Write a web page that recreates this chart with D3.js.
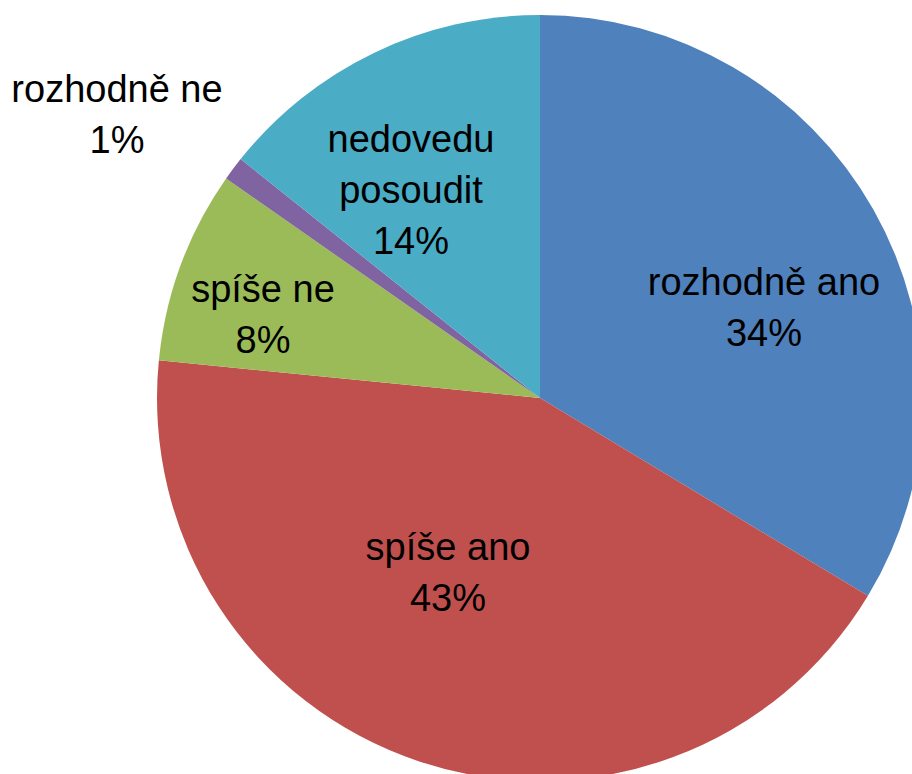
<!DOCTYPE html>
<html>
<head>
<meta charset="utf-8">
<script src="https://cdn.jsdelivr.net/npm/d3@7"></script>
<style>
  html, body { margin: 0; padding: 0; background: #fff; }
  svg { display: block; }
  text { font-family: "Liberation Sans", Arial, sans-serif; fill: #000; }
</style>
</head>
<body>
<svg id="chart" width="912" height="774"></svg>
<script>
// ---- data ----
const categories = ["rozhodně ano", "spíše ano", "spíše ne", "rozhodně ne", "nedovedu posoudit"];
const values = [33.64, 42.93, 8.14, 1.01, 14.28];
const percentLabels = ["34%", "43%", "8%", "1%", "14%"];
const labelLines = [["rozhodně ano"], ["spíše ano"], ["spíše ne"], ["rozhodně ne"], ["nedovedu", "posoudit"]];
const colors = ["#4F81BD", "#C0504D", "#9BBB59", "#8064A2", "#4BACC6"];

// ---- layout ----
const W = 912, H = 774;
const cx = 540, cy = 398, radius = 383;
// label anchors (first-line baseline), relative to pie centre
const labelOffsets = [[224, -103], [-92, 162], [-277, -96], [-423, -296], [-129, -246]];
const lineGap = 51;
const fontSize = 38;

const svg = d3.select("#chart");
const g = svg.append("g").attr("transform", `translate(${cx},${cy})`);

const pie = d3.pie().sort(null).value(d => d.value).startAngle(0).endAngle(2 * Math.PI);
const arc = d3.arc().innerRadius(0).outerRadius(radius);

const data = categories.map((c, i) => ({ name: c, value: values[i], i }));
const arcs = pie(data);

g.selectAll("path.slice")
  .data(arcs)
  .join("path")
  .attr("class", "slice")
  .attr("d", arc)
  .attr("fill", d => colors[d.data.i]);

const labels = g.selectAll("text.lbl")
  .data(arcs)
  .join("text")
  .attr("class", "lbl")
  .attr("text-anchor", "middle")
  .attr("font-size", fontSize)
  .attr("transform", d => `translate(${labelOffsets[d.data.i][0]},${labelOffsets[d.data.i][1]})`);

labels.each(function(d) {
  const t = d3.select(this);
  const lines = labelLines[d.data.i].concat([percentLabels[d.data.i]]);
  lines.forEach((ln, k) => {
    t.append("tspan").attr("x", 0).attr("y", k * lineGap).text(ln);
  });
});
</script>
</body>
</html>
